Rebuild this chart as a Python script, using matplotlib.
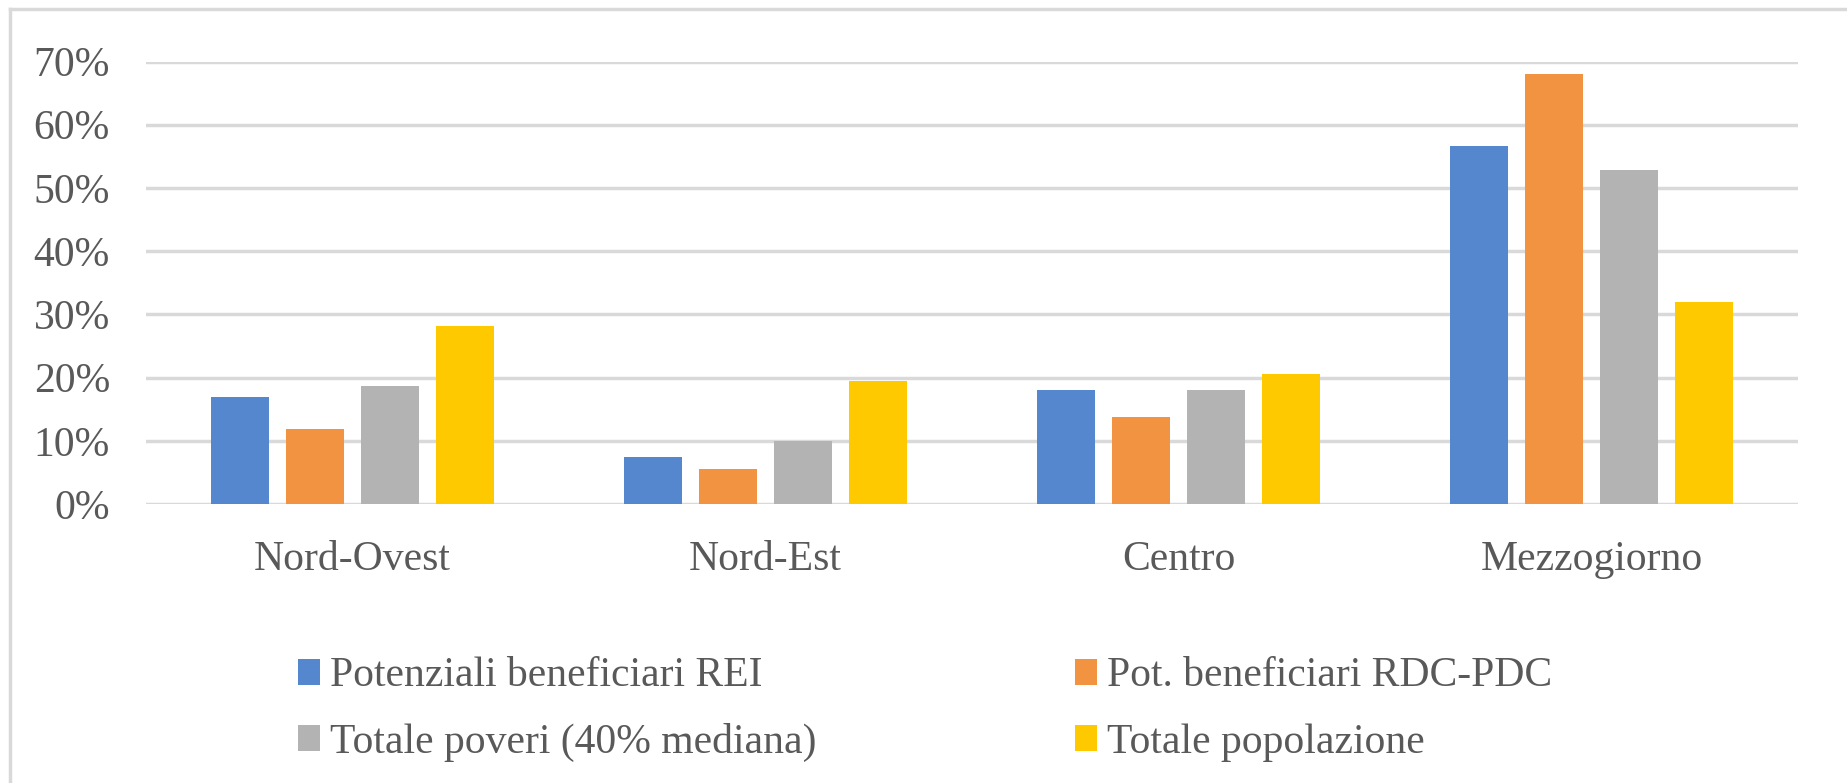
import matplotlib
matplotlib.use("Agg")
import matplotlib.pyplot as plt
from matplotlib.lines import Line2D
from matplotlib.patches import Patch
import numpy as np

regions = ["Nord-Ovest", "Nord-Est", "Centro", "Mezzogiorno"]
series_names = ["Potenziali beneficiari REI", "Pot. beneficiari RDC-PDC",
                "Totale poveri (40% mediana)", "Totale popolazione"]
rei = [16.9, 7.4, 18.1, 56.7]
rdc = [11.8, 5.5, 13.7, 68.1]
poveri = [18.7, 9.9, 18.1, 52.9]
popolazione = [28.2, 19.4, 20.5, 31.9]
yticks = [0, 10, 20, 30, 40, 50, 60, 70]

colors = ["#5587cf", "#f29342", "#b3b3b3", "#ffc900"]
text_color = "#595959"
grid_color = "#d9d9d9"

plt.rcParams["font.family"] = ["Liberation Serif", "DejaVu Serif"]

W, H = 1847, 783
fig = plt.figure(figsize=(W / 100, H / 100), dpi=100)
ax = fig.add_axes([146 / W, 1 - 504 / H, (1798 - 146) / W, (504 - 61.5) / H])

x = np.arange(len(regions))
pitch, width = 0.181, 0.14
handles = []
for i, (vals, c) in enumerate(zip([rei, rdc, poveri, popolazione], colors)):
    ax.bar(x + (i - 1.5) * pitch, vals, width, color=c, zorder=3)
    handles.append(Patch(facecolor=c, edgecolor="none"))

ax.set_xlim(-0.5, len(regions) - 0.5)
ax.set_ylim(0, 70)
ax.set_yticks(yticks)
ax.set_yticklabels([f"{t}%" for t in yticks])
ax.set_xticks(x)
ax.set_xticklabels(regions)
ax.tick_params(axis="both", length=0, labelsize=30, colors=text_color)
ax.tick_params(axis="y", pad=26)
ax.tick_params(axis="x", pad=26)
for s in ax.spines.values():
    s.set_visible(False)
ax.yaxis.grid(True, color=grid_color, linewidth=2.5, zorder=0)
ax.set_axisbelow(True)

# legend: row-major order like the source (REI, RDC / poveri, popolazione)
order = [0, 2, 1, 3]
leg = ax.legend([handles[k] for k in order], [series_names[k] for k in order],
                ncol=2, loc="upper left", bbox_to_anchor=(298 / W, 1 - 657 / H),
                bbox_transform=fig.transFigure, frameon=False, fontsize=30,
                handlelength=0.52, handleheight=0.58, handletextpad=0.25,
                columnspacing=6.2, labelspacing=0.66, borderpad=0, borderaxespad=0)
for t in leg.get_texts():
    t.set_color(text_color)

# outer frame of the screenshot
fig.add_artist(Line2D([10 / W, 1], [1 - 9 / H, 1 - 9 / H], color=grid_color,
                      linewidth=2.5, transform=fig.transFigure))
fig.add_artist(Line2D([10 / W, 10 / W], [0, 1 - 9 / H], color=grid_color,
                      linewidth=2.5, transform=fig.transFigure))

fig.savefig("out.png", dpi=100)
